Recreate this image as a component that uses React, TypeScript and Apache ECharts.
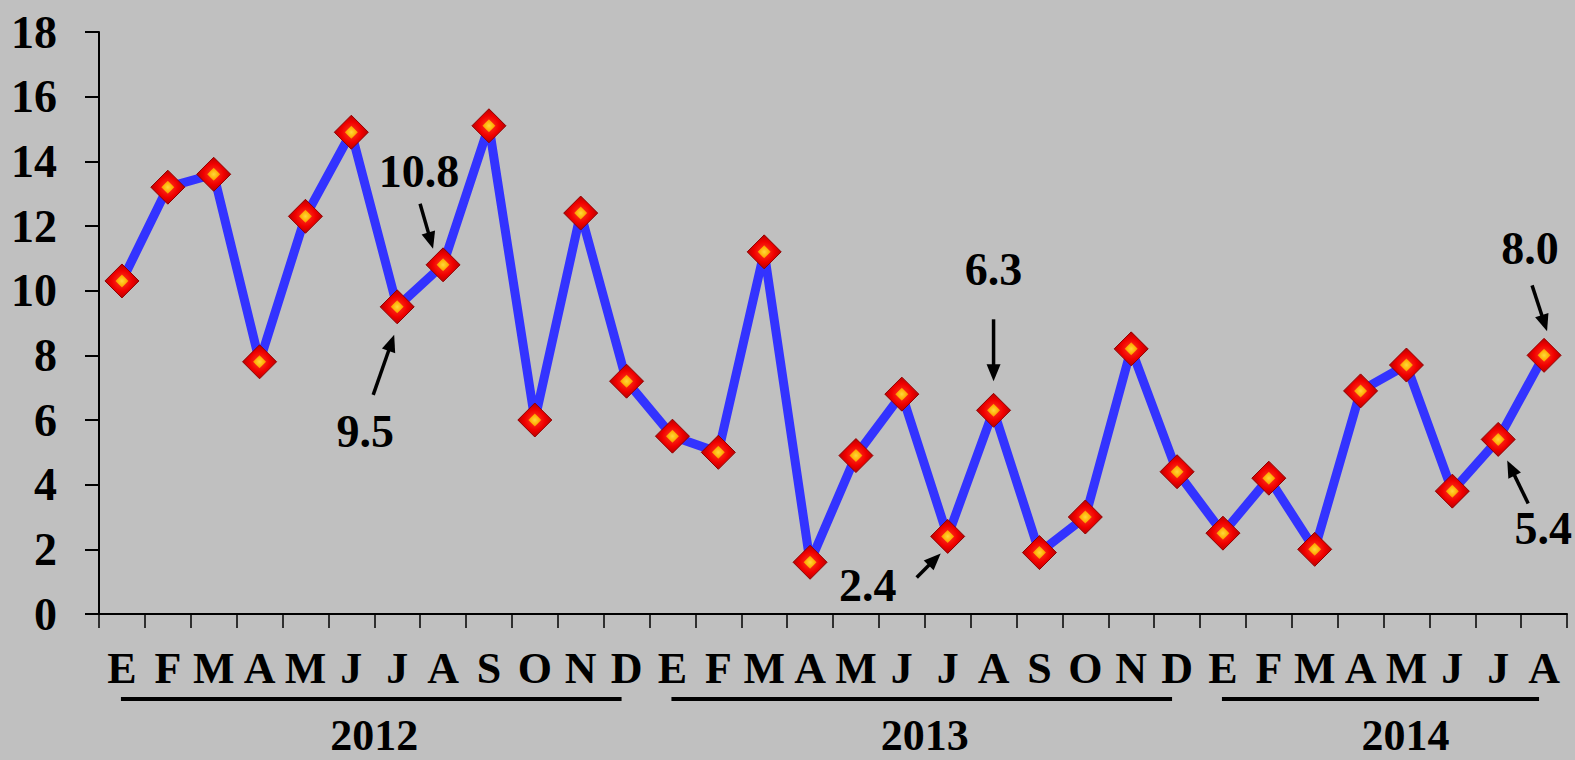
import React, { useEffect, useRef } from "react";
import * as echarts from "echarts";

// ---- Data ----
const months = [
  "E", "F", "M", "A", "M", "J", "J", "A", "S", "O", "N", "D",
  "E", "F", "M", "A", "M", "J", "J", "A", "S", "O", "N", "D",
  "E", "F", "M", "A", "M", "J", "J", "A",
];
const values2012 = [10.3, 13.2, 13.6, 7.8, 12.3, 14.9, 9.5, 10.8, 15.1, 6.0, 12.4, 7.2];
const values2013 = [5.5, 5.0, 11.2, 1.6, 4.9, 6.8, 2.4, 6.3, 1.9, 3.0, 8.2, 4.4];
const values2014 = [2.5, 4.2, 2.0, 6.9, 7.7, 3.8, 5.4, 8.0];
const values = [...values2012, ...values2013, ...values2014];
const years = ["2012", "2013", "2014"];
const yearFirstIndex = [0, 12, 24];
const yearLastIndex = [11, 23, 31];
const yTicks = [0, 2, 4, 6, 8, 10, 12, 14, 16, 18];
const annotatedIndex = [7, 6, 19, 18, 31, 30];

// ---- Layout (offsets from marker centre, px) ----
const annotationLayout: Record<number, { text: number[]; tail: number[]; tip: number[] }> = {
  7: { text: [-24, -93], tail: [-23, -61], tip: [-10, -16] },
  6: { text: [-32, 125], tail: [-24, 88], tip: [-3, 28] },
  19: { text: [0, -141], tail: [0, -91], tip: [0, -29] },
  18: { text: [-80, 49], tail: [-31, 41], tip: [-7, 17] },
  31: { text: [-14, -107], tail: [-12, -70], tip: [3, -24] },
  30: { text: [45, 89], tail: [30, 64], tip: [9, 21] },
};
const yearCenterShift = [0, 0, 22];

const FONT = "'Liberation Serif', 'Times New Roman', serif";

function arrow(x1: number, y1: number, x2: number, y2: number) {
  const dx = x2 - x1;
  const dy = y2 - y1;
  const len = Math.sqrt(dx * dx + dy * dy);
  const ux = dx / len;
  const uy = dy / len;
  const headLen = 17;
  const headHalf = 7;
  const bx = x2 - ux * headLen;
  const by = y2 - uy * headLen;
  return [
    {
      type: "line",
      shape: { x1, y1, x2: bx + ux * 2, y2: by + uy * 2 },
      style: { stroke: "#000", lineWidth: 3.5 },
      z: 100,
    },
    {
      type: "polygon",
      shape: {
        points: [
          [x2, y2],
          [bx - uy * headHalf, by + ux * headHalf],
          [bx + uy * headHalf, by - ux * headHalf],
        ],
      },
      style: { fill: "#000" },
      z: 100,
    },
  ];
}

export default function App() {
  const ref = useRef<HTMLDivElement>(null);

  useEffect(() => {
    if (!ref.current) return;
    const chart = echarts.init(ref.current, null, { renderer: "svg" });
    chart.setOption({
      animation: false,
      backgroundColor: "#C0C0C0",
      grid: { left: 99, right: 8, top: 32, bottom: 146, containLabel: false },
      xAxis: {
        type: "category",
        data: months,
        boundaryGap: true,
        axisLine: { show: true, lineStyle: { color: "#000", width: 2 } },
        axisTick: { show: true, length: 14, alignWithLabel: false, lineStyle: { color: "#000", width: 1.5 } },
        axisLabel: {
          interval: 0,
          margin: 32,
          color: "#000",
          fontFamily: FONT,
          fontWeight: "bold",
          fontSize: 44,
        },
        splitLine: { show: false },
      },
      yAxis: {
        type: "value",
        min: yTicks[0],
        max: yTicks[yTicks.length - 1],
        interval: 2,
        axisLine: { show: true, lineStyle: { color: "#000", width: 2 } },
        axisTick: { show: true, inside: false, length: 14, lineStyle: { color: "#000", width: 2 } },
        axisLabel: {
          margin: 42,
          color: "#000",
          fontFamily: FONT,
          fontWeight: "bold",
          fontSize: 46,
        },
        splitLine: { show: false },
      },
      series: [
        {
          type: "line",
          data: values,
          lineStyle: { color: "#3333FF", width: 9 },
          symbol: "diamond",
          symbolSize: 34,
          showAllSymbol: true,
          itemStyle: {
            color: new echarts.graphic.RadialGradient(0.5, 0.5, 0.6, [
              { offset: 0, color: "#FF4020" },
              { offset: 0.5, color: "#F00000" },
              { offset: 0.8, color: "#C00000" },
              { offset: 1, color: "#800000" },
            ]),
            borderColor: "#900000",
            borderWidth: 1,
          },
          z: 3,
        },
        {
          type: "scatter",
          data: values,
          symbol: "diamond",
          symbolSize: 13,
          itemStyle: {
            color: new echarts.graphic.RadialGradient(0.5, 0.5, 0.6, [
              { offset: 0, color: "#FFFF40" },
              { offset: 0.6, color: "#FFD000" },
              { offset: 1, color: "#FF8000" },
            ]),
          },
          z: 4,
          silent: true,
        },
      ],
    });

    const pt = (i: number) =>
      chart.convertToPixel({ gridIndex: 0 }, [i, values[i]]) as number[];
    const elements: any[] = [];

    annotatedIndex.forEach((idx) => {
      const [mx, my] = pt(idx);
      const lay = annotationLayout[idx];
      elements.push({
        type: "text",
        x: mx + lay.text[0],
        y: my + lay.text[1],
        style: {
          text: values[idx].toFixed(1),
          fill: "#000",
          font: `bold 46px ${FONT}`,
          align: "center",
          verticalAlign: "middle",
        },
        z: 100,
      });
      elements.push(
        ...arrow(mx + lay.tail[0], my + lay.tail[1], mx + lay.tip[0], my + lay.tip[1])
      );
    });

    years.forEach((yr, k) => {
      const [x1] = pt(yearFirstIndex[k]);
      const [x2] = pt(yearLastIndex[k]);
      elements.push({
        type: "line",
        shape: { x1: x1 - 1, y1: 699, x2: x2 - 5, y2: 699 },
        style: { stroke: "#000", lineWidth: 4 },
        z: 100,
      });
      elements.push({
        type: "text",
        x: (x1 + x2) / 2 + yearCenterShift[k],
        y: 735,
        style: {
          text: yr,
          fill: "#000",
          font: `bold 44px ${FONT}`,
          align: "center",
          verticalAlign: "middle",
        },
        z: 100,
      });
    });

    chart.setOption({ graphic: elements });
    return () => chart.dispose();
  }, []);

  return (
    <div
      ref={ref}
      style={{ position: "fixed", left: 0, top: 0, width: 1575, height: 760 }}
    />
  );
}
